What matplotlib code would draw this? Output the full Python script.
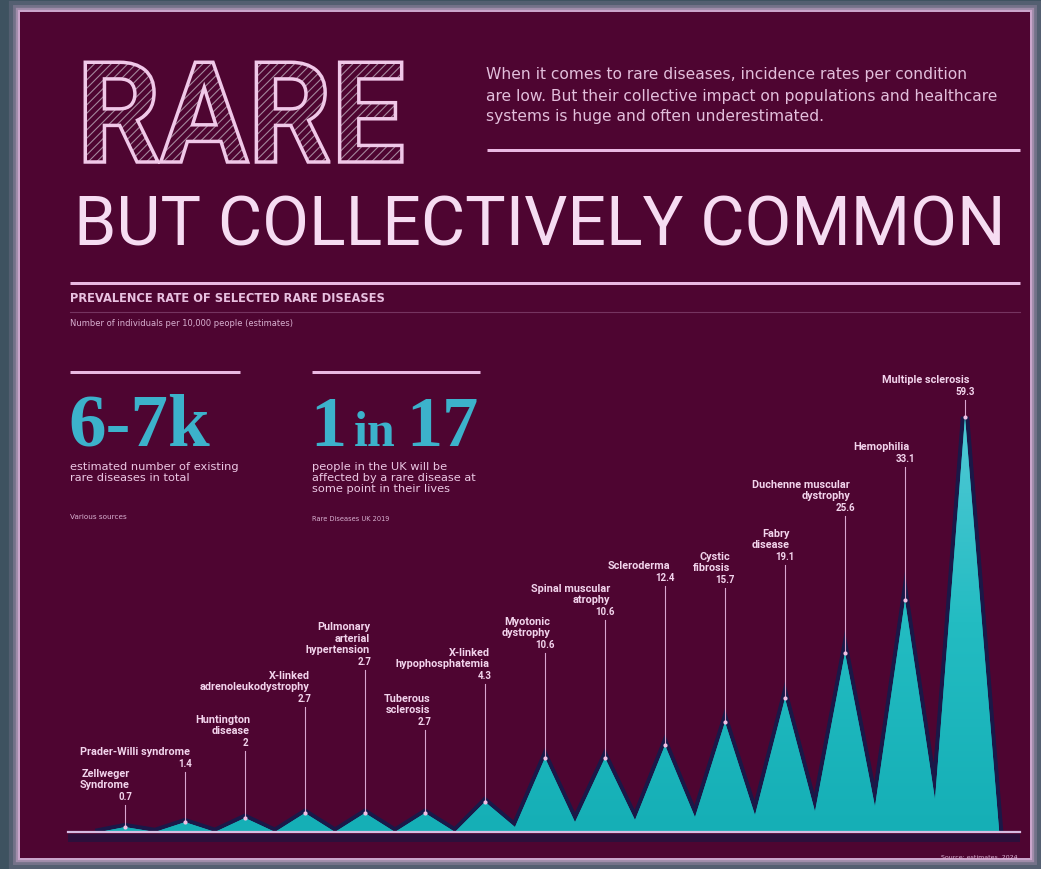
import matplotlib
matplotlib.use('Agg')
import matplotlib.pyplot as plt
import matplotlib.patheffects as pe
import numpy as np
from matplotlib.patches import Rectangle
from matplotlib.colors import LinearSegmentedColormap
from matplotlib.transforms import Affine2D

W, H = 1041, 869

# prevalence per 10,000 people, smallest to largest
diseases = [
    'Zellweger\nSyndrome',
    'Prader-Willi syndrome',
    'Huntington\ndisease',
    'X-linked\nadrenoleukodystrophy',
    'Pulmonary\narterial\nhypertension',
    'Tuberous\nsclerosis',
    'X-linked\nhypophosphatemia',
    'Myotonic\ndystrophy',
    'Spinal muscular\natrophy',
    'Scleroderma',
    'Cystic\nfibrosis',
    'Fabry\ndisease',
    'Duchenne muscular\ndystrophy',
    'Hemophilia',
    'Multiple sclerosis',
]
prevalence = [0.7, 1.4, 2.0, 2.7, 2.7, 2.7, 4.3, 10.6, 10.6, 12.4, 15.7, 19.1, 25.6, 33.1, 59.3]
troughs = [0, 0, 0, 0, 0, 0, 0.7, 1.4, 1.7, 2.1, 2.4, 2.9, 3.6, 4.6]

# where each callout sits above its peak (same units as prevalence)
label_level = [5.0, 9.7, 12.7, 19.0, 24.3, 15.7, 22.3, 26.7, 31.4, 36.3, 36.0, 39.3, 46.3, 53.3, 62.9]

intro_lines = [
    'When it comes to rare diseases, incidence rates per condition',
    'are low. But their collective impact on populations and healthcare',
    'systems is huge and often underestimated.',
]

BG = '#4e0531'
PINK = '#f0c8e8'
TEAL = '#3cb2cb'
TXT = '#ecc8e4'

plt.rcParams['hatch.linewidth'] = 0.8


class Squeeze(pe.AbstractPathEffect):
    """Narrow the glyphs horizontally before handing them to other effects."""

    def __init__(self, sx, effects):
        super().__init__()
        self.sx = sx
        self.effects = effects

    def draw_path(self, renderer, gc, tpath, affine, rgbFace=None):
        aff = Affine2D().scale(self.sx, 1) + affine
        for e in self.effects:
            e.draw_path(renderer, gc, tpath, aff, rgbFace)


fig = plt.figure(figsize=(W / 100, H / 100), dpi=100, facecolor='#3e5260')
bg = fig.add_axes([0, 0, 1, 1])
bg.set_xlim(0, W)
bg.set_ylim(H, 0)
bg.axis('off')

# panel with a soft glowing edge
for lw, a in [(16, 0.15), (10, 0.25), (6, 0.45), (3, 0.8)]:
    bg.add_patch(Rectangle((20, 12), 1010, 846, fc='none', ec='#d6acd4', lw=lw, alpha=a))
bg.add_patch(Rectangle((20, 12), 1010, 846, fc=BG, ec='none'))

# headline
bg.text(77, 162, 'RARE', fontsize=101, family='Roboto', weight='bold', va='baseline',
        path_effects=[Squeeze(0.93, [
            pe.PathPatchEffect(hatch='////', facecolor=BG, edgecolor='#a4879c', linewidth=0),
            pe.PathPatchEffect(facecolor='none', edgecolor=PINK, linewidth=2.5)])])
bg.text(74, 245, 'BUT COLLECTIVELY COMMON', fontsize=49, family='Roboto', color='#f6dcf2',
        va='baseline')

for i, line in enumerate(intro_lines):
    bg.text(486, 75 + i * 21, line, fontsize=11.2, family='DejaVu Sans', color='#e2bedb',
            va='center')

rules = [(487, 1020, 150, 3), (70, 1020, 283, 3), (70, 240, 372, 3), (312, 480, 372, 3)]
for x0, x1, y, lw in rules:
    bg.plot([x0, x1], [y, y], color='#eab8e2', lw=lw * 0.72, solid_capstyle='butt')
bg.plot([70, 1020], [312, 312], color='#c08cb8', lw=0.8, alpha=0.35)

bg.text(70, 298, 'PREVALENCE RATE OF SELECTED RARE DISEASES', fontsize=8.3,
        family='DejaVu Sans', weight='bold', color='#e8c0e0', va='center')
bg.text(70, 323, 'Number of individuals per 10,000 people (estimates)', fontsize=6,
        family='DejaVu Sans', color='#d8b0d0', va='center')

# key figures
serif = 'Liberation Serif'
bg.text(68, 446, '6-7k', fontsize=54, family=serif, weight='bold', color=TEAL, va='baseline')
bg.text(70, 462, 'estimated number of existing\nrare diseases in total', fontsize=8.2,
        family='DejaVu Sans', color=TXT, va='top', linespacing=1.15)
bg.text(70, 517, 'Various sources', fontsize=5.2, family='DejaVu Sans', color='#d8b0d0',
        va='center')

bg.text(310, 446, '1', fontsize=52, family=serif, weight='bold', color=TEAL, va='baseline')
bg.text(354, 446, 'in', fontsize=36, family=serif, weight='bold', color=TEAL, va='baseline')
bg.text(406, 446, '17', fontsize=52, family=serif, weight='bold', color=TEAL, va='baseline')
bg.text(312, 462, 'people in the UK will be\naffected by a rare disease at\nsome point in their lives',
        fontsize=8.2, family='DejaVu Sans', color=TXT, va='top', linespacing=1.15)
bg.text(312, 519, 'Rare Diseases UK 2019', fontsize=4.8, family='DejaVu Sans', color='#d8b0d0',
        va='center')

bg.text(1018, 857, 'Source: estimates, 2024', fontsize=4.5, family='DejaVu Sans',
        color='#e0b8d8', ha='right', va='center')

# chart: 60 px per disease, 7 px per unit of prevalence
px_unit = 7.0
ax = fig.add_axes([65 / W, (H - 832) / H, 960 / W, 470 / H])
ax.set_xlim(-1, 15)
ax.set_ylim(0, 470 / px_unit)
ax.axis('off')
ax.patch.set_alpha(0)

n = len(prevalence)
xs = [-0.42]
ys = [0.0]
for i in range(n):
    xs.append(i)
    ys.append(prevalence[i])
    if i < n - 1:
        xs.append(i + 0.5)
        ys.append(troughs[i])
xs.append(14.57)
ys.append(0.0)

ax.plot(xs, ys, color='#1a1848', lw=6, zorder=2, solid_joinstyle='miter')
poly = ax.fill(xs, ys, color='#1db7bd', lw=0, zorder=3)[0]
grad = np.linspace(0, 1, 256).reshape(-1, 1)
cmap = LinearSegmentedColormap.from_list('peak', ['#15afb6', '#23bcc2', '#52c9d6'])
im = ax.imshow(grad, extent=[-1, 15, 0, 60], origin='lower', aspect='auto', cmap=cmap,
               zorder=3.5)
im.set_clip_path(poly)

# baseline and the dark band beneath it
bg.add_patch(Rectangle((68, 834), 952, 8, fc='#1e1440', ec='none', alpha=0.7))
ax.plot([-0.95, 14.92], [0, 0], color='#d6bce2', lw=1.6, zorder=5, clip_on=False)

step = 1.0 / px_unit
for i, (name, v, lev) in enumerate(zip(diseases, prevalence, label_level)):
    ax.plot([i, i], [v, lev - 8 * step], color='#d9a6cf', lw=0.8, zorder=4)
    ax.scatter([i], [v], s=9, color='#f0c0e4', zorder=6, lw=0)
    ax.text(i, lev, f'{v:g}', fontsize=7, family='Roboto', weight='bold', color='#f2d4ec',
            ha='center', va='center', zorder=6)
    ax.text(i + 5 / 60, lev + 7 * step, name, fontsize=7.8, family='Roboto',
            weight='bold', color='#f2d4ec', ha='right', va='bottom', linespacing=1.15,
            zorder=6)

fig.savefig('out.png', dpi=100, facecolor=fig.get_facecolor())
